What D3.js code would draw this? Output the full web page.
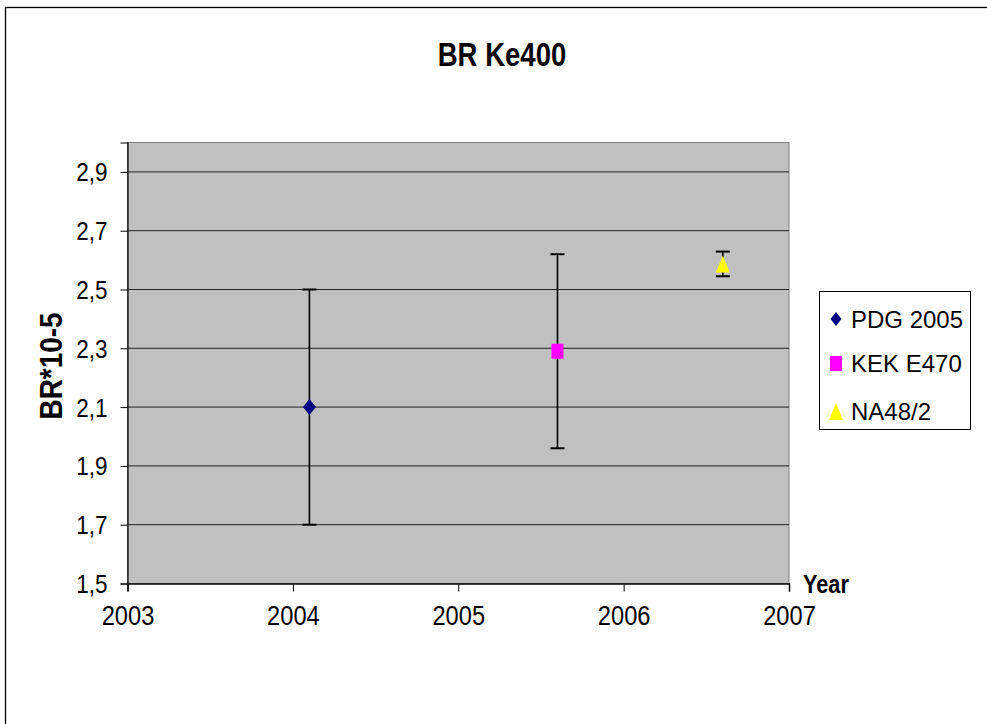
<!DOCTYPE html>
<html>
<head>
<meta charset="utf-8">
<script src="https://cdn.jsdelivr.net/npm/d3@7"></script>
<style>
  html, body { margin: 0; padding: 0; background: #fff; }
  svg { display: block; font-family: "Liberation Sans", Arial, sans-serif; }
</style>
</head>
<body>
<svg id="chart" width="987" height="724"></svg>
<script>
const titleText = "BR Ke400";
const yAxisTitle = "BR*10-5";
const xAxisTitle = "Year";
const seriesNames = ["PDG 2005", "KEK E470", "NA48/2"];
const seriesYears = [2004.1, 2005.6, 2006.6];
const seriesValues = [2.1, 2.29, 2.587];
const seriesErrors = [0.4, 0.33, 0.042];
const seriesColors = ["#000080", "#FF00FF", "#FFFF00"];
const seriesShapes = ["diamond", "square", "triangle"];
const xTicks = [2003, 2004, 2005, 2006, 2007];
const yTicks = [1.5, 1.7, 1.9, 2.1, 2.3, 2.5, 2.7, 2.9];

const svg = d3.select("#chart");
const plot = { left: 127.5, right: 789, top: 142.5, bottom: 583.5 };

const x = d3.scaleLinear().domain([2003, 2007]).range([plot.left, plot.right]);
const y = d3.scaleLinear().domain([1.5, 3.0]).range([plot.bottom, plot.top]);

// outer chart border
svg.append("rect").attr("x", 5.5).attr("y", 7.5).attr("width", 1000).attr("height", 740)
  .attr("fill", "#fff").attr("stroke", "#000").attr("stroke-width", 1.3);

// plot area
svg.append("rect").attr("x", plot.left).attr("y", plot.top)
  .attr("width", plot.right - plot.left).attr("height", plot.bottom - plot.top)
  .attr("fill", "#C0C0C0").attr("stroke", "#808080").attr("stroke-width", 1);

// gridlines
svg.append("g").selectAll("line").data(yTicks.filter(d => d > 1.5)).join("line")
  .attr("x1", plot.left).attr("x2", plot.right)
  .attr("y1", d => y(d)).attr("y2", d => y(d))
  .attr("stroke", "#222").attr("stroke-width", 1);

// y axis
const yAxis = d3.axisLeft(y).tickValues(yTicks).tickSize(7).tickPadding(13)
  .tickFormat(d => d3.format(".1f")(d).replace(".", ","));
const gy = svg.append("g").attr("transform", `translate(${plot.left},0)`).call(yAxis);
gy.select(".domain").attr("stroke", "#000").attr("stroke-width", 1.2);
gy.selectAll(".tick line").attr("stroke", "#000");
gy.selectAll(".tick text").attr("font-size", 25).attr("fill", "#000")
  .attr("font-family", "Liberation Sans, Arial, sans-serif")
  .attr("dy", "0.36em");
gy.selectAll(".tick text").each(function() {
  const t = d3.select(this);
  const xx = +t.attr("x");
  t.attr("transform", `translate(${xx},0) scale(0.9,1) translate(${-xx},0)`);
});

// x axis
const xAxis = d3.axisBottom(x).tickValues(xTicks).tickSize(8).tickPadding(14)
  .tickFormat(d3.format("d"));
const gx = svg.append("g").attr("transform", `translate(0,${plot.bottom})`).call(xAxis);
gx.select(".domain").attr("stroke", "#000").attr("stroke-width", 1.5);
gx.selectAll(".tick line").attr("stroke", "#000");
gx.selectAll(".tick text").attr("font-size", 27.5).attr("fill", "#000")
  .attr("font-family", "Liberation Sans, Arial, sans-serif")
  .attr("transform", "scale(0.86,1)");

// shapes
function shapePath(kind, w, h) {
  if (kind === "diamond") return `M0,${-h/2}L${w/2},0L0,${h/2}L${-w/2},0Z`;
  if (kind === "square") return `M${-w/2},${-h/2}H${w/2}V${h/2}H${-w/2}Z`;
  return `M0,${-h/2}L${w/2},${h/2}H${-w/2}Z`;
}
const shapeSize = { diamond: [13, 16], square: [12, 15], triangle: [14, 17] };

const data = seriesNames.map((n, i) => ({
  name: n, year: seriesYears[i], value: seriesValues[i], err: seriesErrors[i],
  color: seriesColors[i], shape: seriesShapes[i]
}));

// error bars
const eb = svg.append("g").attr("stroke", "#000").attr("stroke-width", 1.6);
data.forEach(d => {
  const cx = x(d.year);
  eb.append("line").attr("x1", cx).attr("x2", cx)
    .attr("y1", y(d.value + d.err)).attr("y2", y(d.value - d.err));
  [d.value + d.err, d.value - d.err].forEach(v => {
    eb.append("line").attr("x1", cx - 7).attr("x2", cx + 7)
      .attr("y1", y(v)).attr("y2", y(v)).attr("stroke-width", 2);
  });
});

// markers
svg.append("g").selectAll("path").data(data).join("path")
  .attr("transform", d => `translate(${x(d.year)},${y(d.value)})`)
  .attr("d", d => shapePath(d.shape, ...shapeSize[d.shape]))
  .attr("fill", d => d.color);

// legend
const lg = svg.append("g");
lg.append("rect").attr("x", 819.5).attr("y", 291.5).attr("width", 151).attr("height", 138)
  .attr("fill", "#fff").attr("stroke", "#000").attr("stroke-width", 1);
const rowY = [319, 363.5, 411.5];
data.forEach((d, i) => {
  const sz = d.shape === "diamond" ? [11, 14] : shapeSize[d.shape];
  lg.append("path").attr("transform", `translate(836,${rowY[i]})`)
    .attr("d", shapePath(d.shape, ...sz)).attr("fill", d.color);
  lg.append("text").attr("x", 851).attr("y", rowY[i]).attr("dy", "0.36em")
    .attr("font-size", 24).attr("fill", "#000").text(d.name);
});

// title
svg.append("text").attr("transform", "translate(502,66) scale(0.81,1)")
  .attr("text-anchor", "middle").attr("font-size", 34).attr("font-weight", "bold")
  .text(titleText);

// y axis title
svg.append("text").attr("transform", "translate(51,366) rotate(-90) scale(0.9,1)")
  .attr("text-anchor", "middle").attr("dy", "0.36em")
  .attr("font-size", 31).attr("font-weight", "bold").text(yAxisTitle);

// x axis title
svg.append("text").attr("transform", "translate(803,593) scale(0.82,1)")
  .attr("font-size", 26.5).attr("font-weight", "bold").text(xAxisTitle);
</script>
</body>
</html>
